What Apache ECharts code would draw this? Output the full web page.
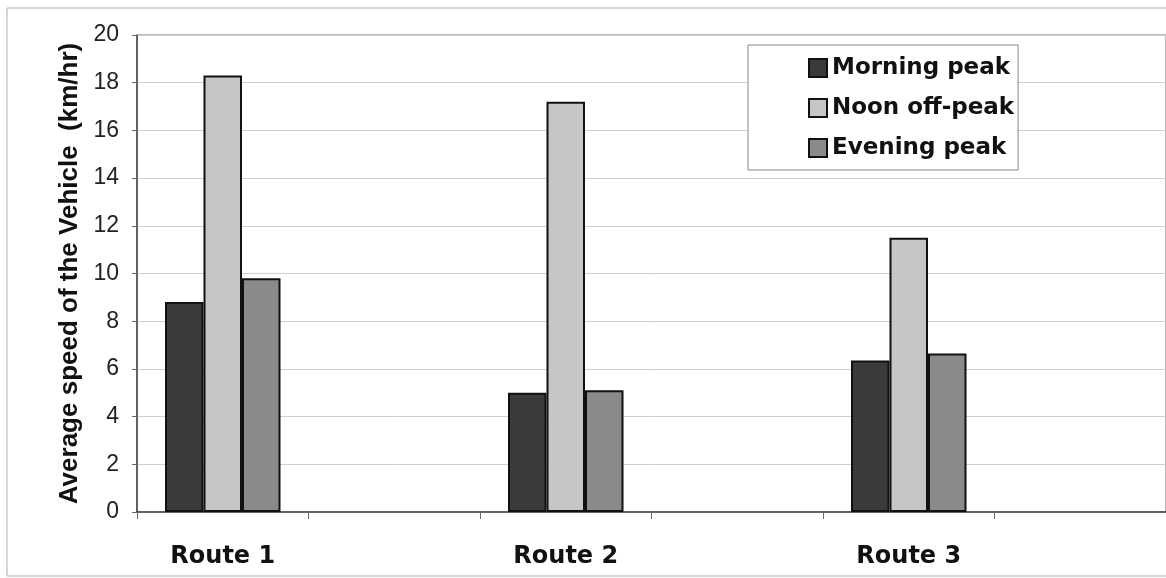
<!DOCTYPE html>
<html>
<head>
<meta charset="utf-8">
<script src="https://cdn.jsdelivr.net/npm/echarts@6/dist/echarts.min.js"></script>
<style>
  html, body { margin: 0; padding: 0; background: #fff; }
  #chart { width: 1166px; height: 578px; }
</style>
</head>
<body>
<div id="chart"></div>
<script>
// Routes sit in every other slot, leaving an empty gap slot after each one
const categories = ['Route 1', '', 'Route 2', '', 'Route 3', ''];
const morningPeak = [8.8, null, 5.0, null, 6.35, null];
const noonOffPeak = [18.3, null, 17.2, null, 11.5, null];
const eveningPeak = [9.8, null, 5.1, null, 6.65, null];
const yTicks = { min: 0, max: 20, interval: 2 };

const chart = echarts.init(document.getElementById('chart'));

function barSeries(name, data, color) {
  return {
    name: name,
    type: 'bar',
    data: data,
    barWidth: 38.5,
    barGap: '0%',
    itemStyle: { color: color, borderColor: '#111', borderWidth: 2 }
  };
}

chart.setOption({
  backgroundColor: '#fff',
  animation: false,
  graphic: [{
    type: 'rect',
    shape: { x: 7, y: 8, width: 1170, height: 568 },
    style: { fill: 'none', stroke: '#b0b0b0', lineWidth: 1 },
    z: 0
  }],
  grid: { left: 137, right: 0, top: 35, bottom: 66, show: true, borderColor: '#777', borderWidth: 1 },
  legend: {
    orient: 'vertical',
    left: 748,
    top: 45,
    padding: [11, 4, 10, 60],
    icon: 'rect',
    itemWidth: 18,
    itemHeight: 18,
    itemGap: 16,
    itemTextGap: 9,
    backgroundColor: '#fff',
    borderColor: '#888',
    borderWidth: 1,
    textStyle: { fontFamily: 'DejaVu Sans', fontWeight: 'bold', fontSize: 23, color: '#111', lineHeight: 24 },
    data: ['Morning peak', 'Noon off-peak', 'Evening peak']
  },
  xAxis: {
    type: 'category',
    data: categories,
    boundaryGap: true,
    axisLine: { lineStyle: { color: '#444', width: 1.5 } },
    axisTick: { show: true, interval: 0, length: 7, lineStyle: { color: '#666' } },
    axisLabel: {
      interval: 0, margin: 33,
      fontFamily: 'DejaVu Sans', fontWeight: 'bold', fontSize: 24, color: '#111'
    }
  },
  yAxis: {
    type: 'value',
    min: yTicks.min, max: yTicks.max, interval: yTicks.interval,
    name: 'Average speed of the Vehicle  (km/hr)',
    nameLocation: 'middle',
    nameGap: 54,
    nameTextStyle: { fontFamily: 'Liberation Sans', fontWeight: 'bold', fontSize: 26, color: '#111' },
    axisLine: { show: true, lineStyle: { color: '#444', width: 1.5 } },
    axisTick: { show: true, length: 5, lineStyle: { color: '#666' } },
    axisLabel: { margin: 18, fontFamily: 'Liberation Sans', fontSize: 23, color: '#222' },
    splitLine: { lineStyle: { color: '#cfcfcf', width: 1 } }
  },
  series: [
    barSeries('Morning peak', morningPeak, '#3a3a3a'),
    barSeries('Noon off-peak', noonOffPeak, '#c6c6c6'),
    barSeries('Evening peak', eveningPeak, '#8a8a8a')
  ]
});
</script>
</body>
</html>
